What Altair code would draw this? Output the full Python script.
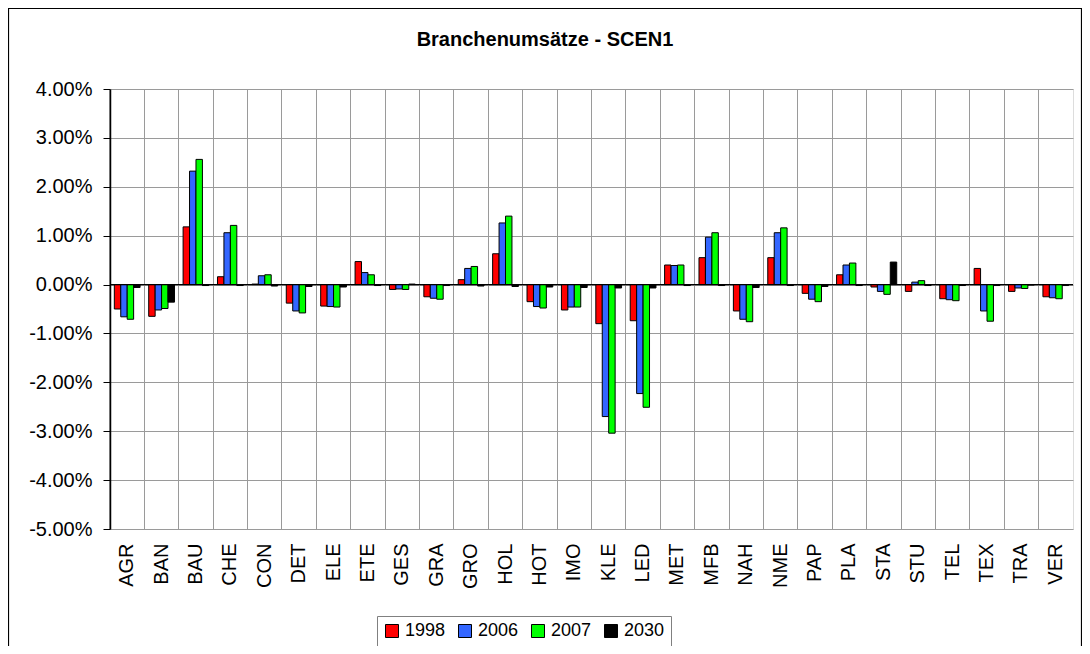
import altair as alt
import pandas as pd

categories = ["AGR", "BAN", "BAU", "CHE", "CON", "DET", "ELE", "ETE", "GES", "GRA",
              "GRO", "HOL", "HOT", "IMO", "KLE", "LED", "MET", "MFB", "NAH", "NME",
              "PAP", "PLA", "STA", "STU", "TEL", "TEX", "TRA", "VER"]
series = ["1998", "2006", "2007", "2030"]
# values in percent
v1998 = [-0.50, -0.65, 1.18, 0.16, 0.01, -0.38, -0.44, 0.47, -0.10, -0.25,
         0.10, 0.63, -0.35, -0.52, -0.80, -0.74, 0.40, 0.55, -0.54, 0.55,
         -0.18, 0.20, -0.05, -0.14, -0.29, 0.33, -0.14, -0.25]
v2006 = [-0.66, -0.52, 2.32, 1.06, 0.18, -0.54, -0.45, 0.245, -0.09, -0.28,
         0.33, 1.26, -0.45, -0.46, -2.70, -2.23, 0.39, 0.97, -0.71, 1.06,
         -0.30, 0.40, -0.14, 0.05, -0.31, -0.54, -0.07, -0.27]
v2007 = [-0.71, -0.49, 2.56, 1.21, 0.20, -0.58, -0.46, 0.20, -0.10, -0.30,
         0.37, 1.40, -0.48, -0.46, -3.04, -2.51, 0.40, 1.06, -0.76, 1.16,
         -0.35, 0.44, -0.20, 0.08, -0.33, -0.75, -0.08, -0.29]
v2030 = [-0.06, -0.36, -0.02, -0.02, -0.03, -0.04, -0.05, -0.02, 0.01, -0.02,
         -0.03, -0.04, -0.05, -0.06, -0.07, -0.07, -0.02, -0.02, -0.06, -0.02,
         -0.04, -0.02, 0.46, -0.02, -0.02, -0.02, -0.01, -0.02]
y_ticks = [-5, -4, -3, -2, -1, 0, 1, 2, 3, 4]
colors = ["#FF0000", "#3366FF", "#00FF00", "#000000"]
title_text = ["Branchenumsätze - SCEN1"]

rows = []
for s, vals in zip(series, [v1998, v2006, v2007, v2030]):
    for c, v in zip(categories, vals):
        rows.append({"cat": c, "series": s, "value": v})
df = pd.DataFrame(rows)

FONT = "Liberation Sans"
W, H = 963, 440
PL, PT = 102, 81
TOTW, TOTH = 1074, 638

bars = alt.Chart(df).mark_bar(stroke="black", strokeWidth=1).encode(
    x=alt.X("cat:N", sort=categories, title=None,
            scale=alt.Scale(paddingInner=0, paddingOuter=0),
            axis=alt.Axis(bandPosition=0, grid=True, ticks=False, domain=False,
                          labelAngle=270, labelAlign="right", labelBaseline="middle",
                          labelFontSize=20, labelFont=FONT, labelColor="black",
                          labelPadding=14, gridColor="#9a9a9a", gridWidth=1)),
    xOffset=alt.XOffset("series:N", sort=series,
                        scale=alt.Scale(paddingInner=0, paddingOuter=0.67)),
    y=alt.Y("value:Q", title=None,
            scale=alt.Scale(domain=[-5, 4], nice=False, zero=False),
            axis=alt.Axis(values=y_ticks,
                          labelExpr="replace(format(datum.value, '.2f'), '\u2212', '-') + '%'",
                          labelFontSize=20, labelFont=FONT, labelColor="black",
                          labelPadding=11, tickSize=7, tickColor="black",
                          domainColor="black", domainWidth=1.5,
                          gridColor="#9a9a9a", gridWidth=1)),
    color=alt.Color("series:N", sort=series,
                    scale=alt.Scale(domain=series, range=colors),
                    legend=alt.Legend(orient="none", legendX=267, legendY=527,
                                      direction="horizontal", columns=4, title=None,
                                      symbolType="square", symbolSize=169,
                                      symbolStrokeColor="black", symbolStrokeWidth=1,
                                      labelFontSize=18, labelFont=FONT, labelColor="black",
                                      strokeColor="#808080", fillColor="white",
                                      padding=6, columnPadding=10, labelOffset=4)),
)

zero = alt.Chart(alt.Data(values=[{}])).mark_rule(color="black", strokeWidth=1.2).encode(
    y=alt.datum(0)
)

frame = alt.Chart(alt.Data(values=[{}])).mark_rect(
    fill=None, stroke="black", strokeWidth=1.2, clip=False
).encode(
    x=alt.value(-PL + 0.5), x2=alt.value(TOTW - PL - 0.5),
    y=alt.value(-PT + 0.5), y2=alt.value(TOTH - PT + 2)
)

title = alt.Chart(alt.Data(values=[{"t": t} for t in title_text])).mark_text(
    font=FONT, fontSize=20, fontWeight="bold", color="black",
    align="center", baseline="middle", clip=False
).encode(
    text="t:N",
    x=alt.value(545 - 8 - PL), y=alt.value(40 - 8 - PT)
)

chart = alt.layer(bars, zero, frame, title).properties(
    width=W, height=H,
    autosize=alt.AutoSizeParams(type="none"),
    padding={"left": PL, "top": PT, "right": TOTW - PL - W, "bottom": TOTH - PT - H},
).configure_view(stroke="#808080", strokeWidth=2).configure(background="white")

chart.save("out.html", embed_options={"renderer": "svg", "actions": False})
